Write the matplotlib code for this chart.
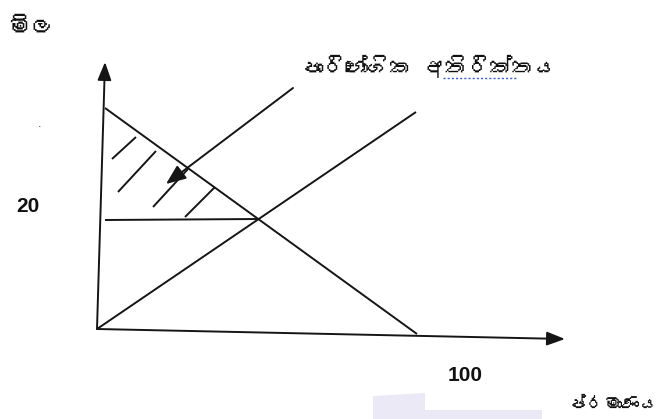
import matplotlib
matplotlib.use("Agg")
import matplotlib.pyplot as plt
from matplotlib import font_manager as fm
from matplotlib.patches import Polygon

# ---- find a font that has Sinhala glyphs, if any is installed ----
def find_sinhala_font():
    try:
        from fontTools.ttLib import TTFont
    except Exception:
        return None
    seen = set()
    for f in fm.fontManager.ttflist:
        if f.fname in seen:
            continue
        seen.add(f.fname)
        try:
            tt = TTFont(f.fname, fontNumber=0, lazy=True)
            cmap = tt.getBestCmap() or {}
            if 0x0DB8 in cmap and 0x0DBD in cmap:
                return f.name
        except Exception:
            continue
    return None

sin_font = find_sinhala_font()
sin_family = ([sin_font] if sin_font else []) + ["DejaVu Sans"]

# ---- data (diagram units: origin at axes corner) ----
axis_origin = (0, 0)
y_axis_top = (8, 267)
x_axis_end = (468, -10)

demand_q = [8, 320]
demand_p = [221, -5]

supply_q = [0, 319]
supply_p = [0, 217]

price_line_q = [8, 162]
price_line_p = [109, 110]

pointer_start = (196, 241)
pointer_tip = (69, 145)

hatch_q = [[15, 39], [21, 59], [56, 91], [88, 118]]
hatch_p = [[170, 192], [137, 178], [122, 160], [112, 142]]

price_label = "මිල"
quantity_label = "ප්රමාණය"
surplus_label = "පාරිභෝගික අතිරික්තය"
price_tick = "20"
quantity_tick = "100"

# ---- figure ----
fig = plt.figure(figsize=(6.64, 4.19), dpi=100)
ax = fig.add_axes([0, 0, 1, 1])
ax.set_xlim(-97, 567)
ax.set_ylim(-90, 329)
ax.axis("off")

lc = "#151515"
lw = 1.4

# watermark shape (faint)
wm = Polygon([(276, -90), (276, -67), (328, -64), (328, -81), (445, -81),
              (445, -90)], closed=True, facecolor="#ebe9f5", edgecolor="none")
ax.add_patch(wm)

# axes arrows
ax.annotate("", xy=y_axis_top, xytext=axis_origin,
            arrowprops=dict(arrowstyle="-|>,head_length=1.0,head_width=0.38",
                            mutation_scale=11, lw=lw, color=lc,
                            shrinkA=0, shrinkB=0))
ax.annotate("", xy=x_axis_end, xytext=axis_origin,
            arrowprops=dict(arrowstyle="-|>,head_length=1.0,head_width=0.38",
                            mutation_scale=11, lw=lw, color=lc,
                            shrinkA=0, shrinkB=0))

# demand and supply
ax.plot(demand_q, demand_p, color=lc, lw=lw, solid_capstyle="butt")
ax.plot(supply_q, supply_p, color=lc, lw=lw, solid_capstyle="butt")
ax.plot(price_line_q, price_line_p, color=lc, lw=lw, solid_capstyle="butt")

# hatching
for hq, hp in zip(hatch_q, hatch_p):
    ax.plot(hq, hp, color=lc, lw=lw, solid_capstyle="butt")

# pointer arrow
ax.annotate("", xy=pointer_tip, xytext=pointer_start,
            arrowprops=dict(arrowstyle="-|>,head_length=1.1,head_width=0.45",
                            mutation_scale=11, lw=lw, color=lc,
                            shrinkA=0, shrinkB=0))

# texts
ax.text(-66, 301, price_label, family=sin_family, fontsize=17,
        fontweight="bold", ha="center", va="center", color="#111")
ax.text(-69, 123, price_tick, family="Liberation Sans", fontsize=15,
        fontweight="bold", ha="center", va="center", color="#111")
ax.text(-57, 205, ".", family="Liberation Sans", fontsize=9,
        ha="center", va="center", color="#333")
ax.text(332, 263, surplus_label, family=sin_family, fontsize=16,
        fontweight="bold", ha="center", va="center", color="#111")
ax.plot([346, 421], [251, 251], color="#3a5fd0", lw=1.0, ls=(0, (1.5, 1.5)))
ax.text(368, -46, quantity_tick, family="Liberation Sans", fontsize=15,
        fontweight="bold", ha="center", va="center", color="#111")
ax.text(562, -76, quantity_label, family=sin_family, fontsize=13,
        ha="right", va="center", color="#111")

fig.savefig("out.png", dpi=100)
